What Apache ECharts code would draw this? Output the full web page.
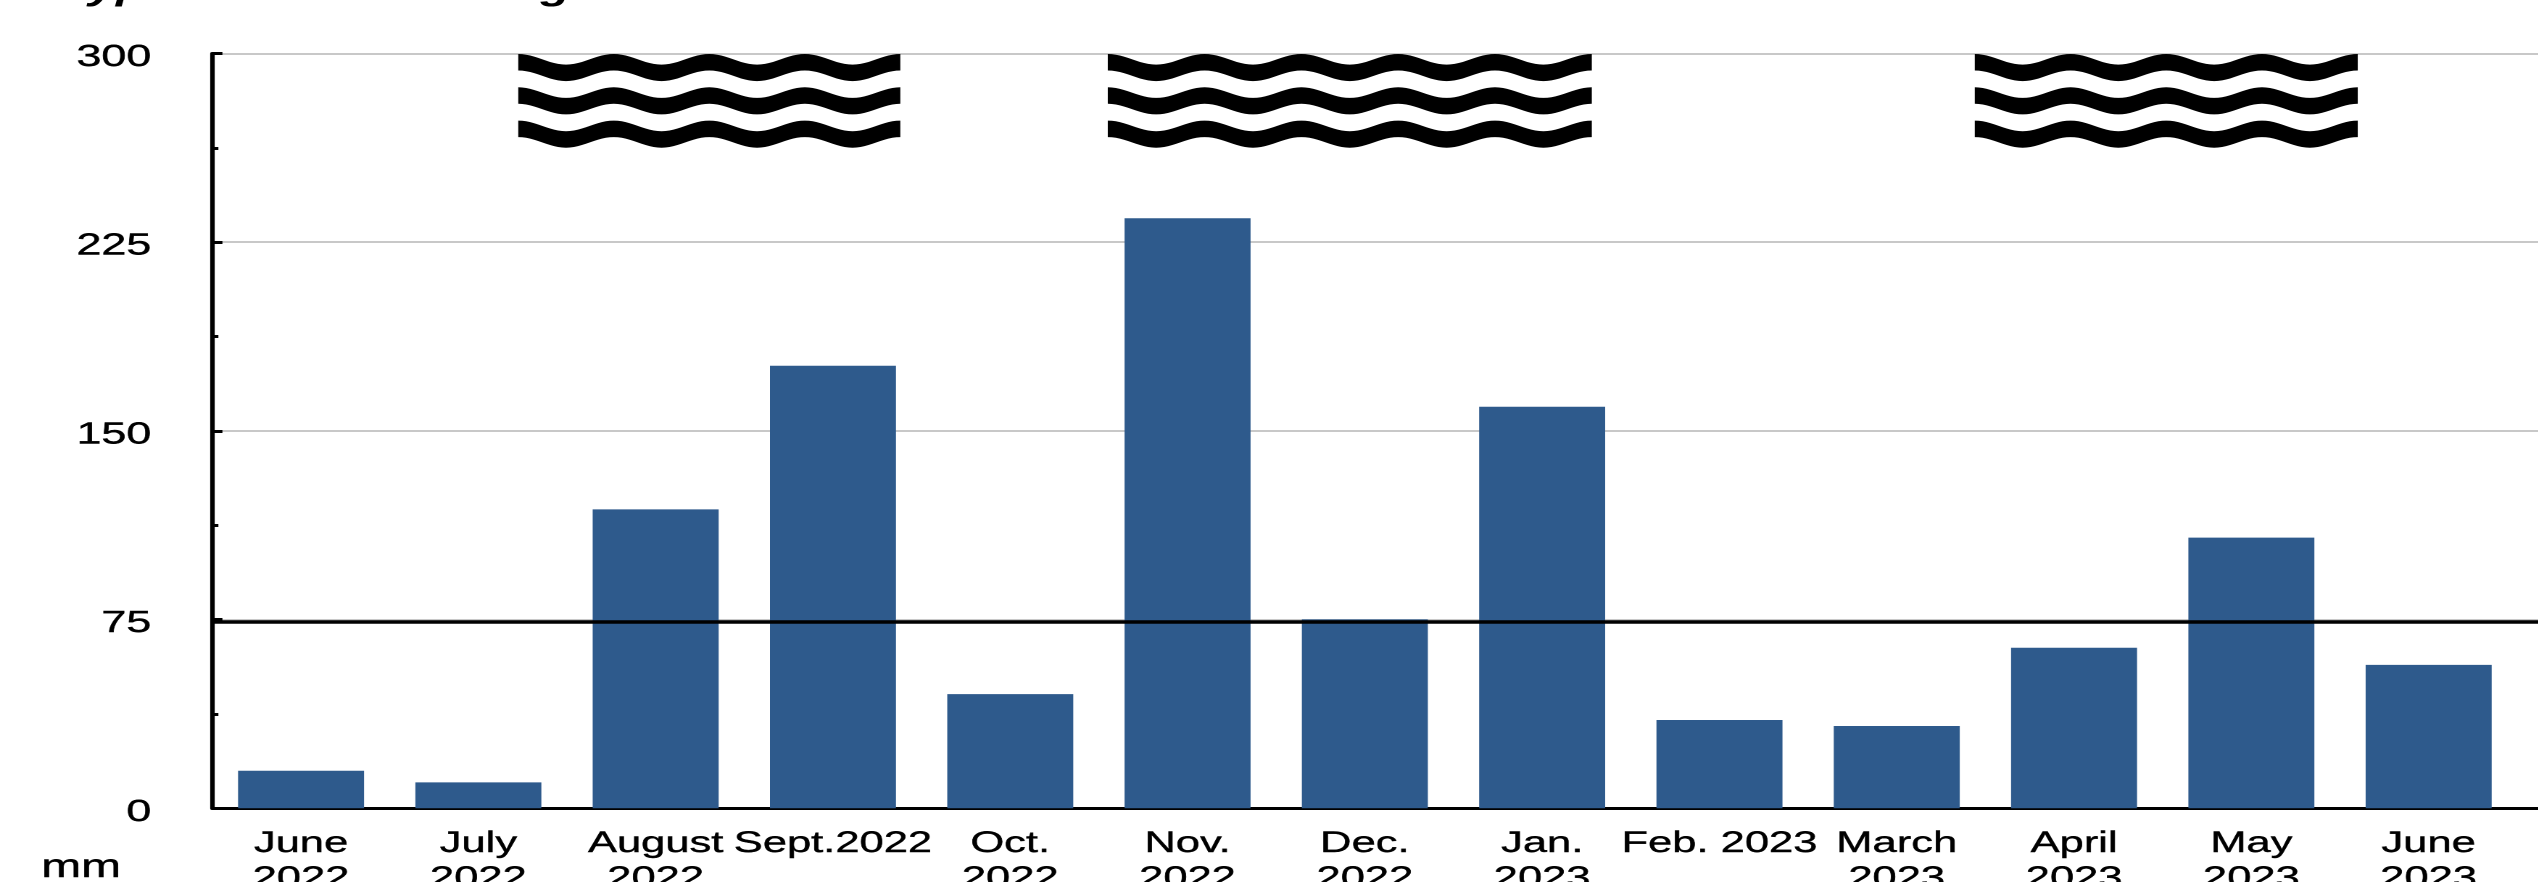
<!DOCTYPE html>
<html>
<head>
<meta charset="utf-8">
<script src="https://cdn.jsdelivr.net/npm/echarts@6/dist/echarts.min.js"></script>
<style>
html,body{margin:0;padding:0;background:#fff;overflow:hidden;width:2538px;height:882px}
#c{width:1750.3px;height:882px;transform:scaleX(1.45);transform-origin:0 0}
</style>
</head>
<body>
<div id="c"></div>
<script>
const months = ['June\n2022','July\n2022','August\n2022','Sept.2022','Oct.\n2022','Nov.\n2022','Dec.\n2022','Jan.\n2023','Feb. 2023','March\n2023','April\n2023','May\n2023','June\n2023',''];
const rainfall = [14.9,10.3,118.8,175.9,45.4,234.5,75.1,159.6,35.1,32.7,63.8,107.6,57,null];
const threshold = 74;
const waveBands = [[1.225,3.38,4],[4.55,7.28,5],[9.44,11.6,4]];
const yTickLabels = ['0','75','150','225','300'];

const S = 1.45;
const chart = echarts.init(document.getElementById('c'), null, {devicePixelRatio: 2});
const font = 'Liberation Sans';
function renderWave(params, api){
  const band = waveBands[params.dataIndex];
  const c0 = api.coord([0, 300])[0], c1 = api.coord([1, 300])[0];
  const x0 = c0 + (c1 - c0) * band[0];
  const x1 = c0 + (c1 - c0) * band[1];
  const top = api.coord([0, 300])[1] + 0.5;
  const periods = band[2];
  const amp = 5.3, thick = 16.5, pitch = 33.3, n = periods * 24;
  const children = [];
  for (let r = 0; r < 3; r++) {
    const pts = [];
    const off = top + r * pitch;
    for (let i = 0; i <= n; i++) {
      const t = i / n;
      pts.push([x0 + (x1 - x0) * t, off + amp * (1 - Math.cos(2 * Math.PI * periods * t))]);
    }
    for (let i = n; i >= 0; i--) {
      const t = i / n;
      pts.push([x0 + (x1 - x0) * t, off + thick + amp * (1 - Math.cos(2 * Math.PI * periods * t))]);
    }
    children.push({type:'polygon', shape:{points:pts}, style:{fill:'#000'}});
  }
  return {type:'group', children};
}
chart.setOption({
  animation:false,
  backgroundColor:'#fff',
  title:{text:'Typical rainfall during', left:53/S, top:-32,
    textStyle:{fontFamily:font, fontWeight:'bold', fontStyle:'italic', fontSize:34, color:'#000'}},
  graphic:[{type:'text', left:41/S, top:851, style:{text:'mm', fontFamily:font, fontSize:33, fill:'#000', stroke:'#000', lineWidth:0.4}}],
  grid:{left:212.4/S, top:53.5, width:14*177.3/S, height:754.8, outerBoundsMode:'none', containLabel:false},
  xAxis:{type:'category', data:months, boundaryGap:true,
    axisLine:{lineStyle:{color:'#000', width:3}},
    axisTick:{show:false},
    axisLabel:{interval:0, margin:18, lineHeight:35, verticalAlign:'top', fontFamily:font, fontSize:30, color:'#000', hideOverlap:false, textBorderColor:'#000', textBorderWidth:0.4}},
  yAxis:{type:'value', min:0, max:300, interval:75,
    axisLine:{show:true, onZero:false, lineStyle:{color:'#000', width:4.5/S}},
    axisTick:{show:true, inside:true, length:10/S, lineStyle:{color:'#000', width:3}},
    minorTick:{show:true, splitNumber:2, length:6/S, lineStyle:{color:'#000', width:3}},
    splitLine:{show:true, lineStyle:{color:'#c8c8c8', width:2}},
    axisLabel:{margin:61/S, color:'#000',
      rich:{v:{fontFamily:font, fontSize:31, color:'#000', lineHeight:39, verticalAlign:'bottom', textBorderColor:'#000', textBorderWidth:0.4}},
      formatter:v => '{v|' + yTickLabels[v/75] + '}'}},
  series:[
    {type:'bar', data:rainfall, barWidth:126/S, itemStyle:{color:'#2e5a8c'},
      markLine:{silent:true, symbol:'none', animation:false, label:{show:false},
        lineStyle:{color:'#000', width:3.5, type:'solid'}, data:[{yAxis:threshold}]}},
    {type:'custom', data:waveBands.map((b,i)=>[i,300]), renderItem:renderWave, clip:false, silent:true, z:5}
  ]
});
</script>
</body>
</html>
